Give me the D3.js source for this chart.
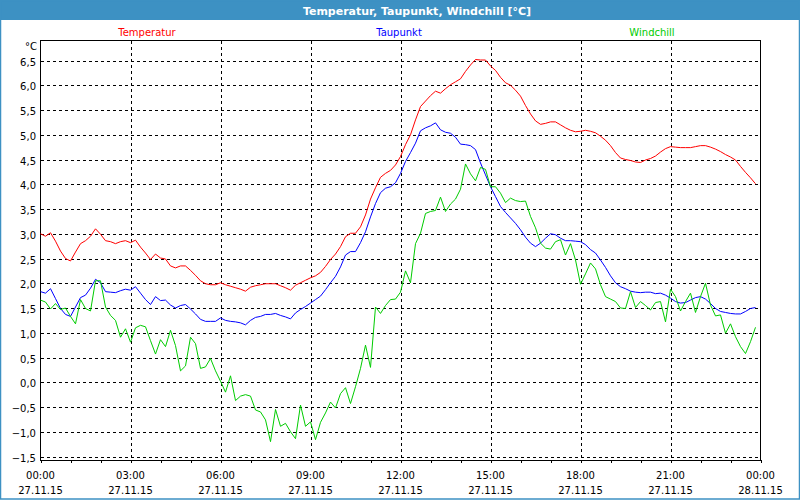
<!DOCTYPE html>
<html>
<head>
<meta charset="utf-8">
<script src="https://cdn.jsdelivr.net/npm/d3@7"></script>
<style>
  body { margin: 0; background: #fff; }
  svg { display: block; }
  text { font-family: "DejaVu Sans", sans-serif; font-size: 10px; fill: #000; }
</style>
</head>
<body>
<div id="chart"></div>
<script>
(function() {
    "use strict";

    // chart values, one reading every 10 minutes from 27.11.15 00:00
    const startTime = new Date(2015, 10, 27, 0, 0);
    const endTime = new Date(2015, 10, 28, 0, 0);
    const stepMinutes = 10;

    const seriesNames = ["Temperatur", "Taupunkt", "Windchill"];
    const seriesColors = ["#ff0000", "#0000ff", "#00cc00"];

    const temperatur = [
        3.0, 2.95, 3.02, 2.85, 2.65, 2.5,
        2.45, 2.63, 2.8, 2.86, 2.95, 3.1,
        2.99, 2.86, 2.84, 2.8, 2.84, 2.86,
        2.82, 2.87, 2.73, 2.61, 2.48, 2.59,
        2.51, 2.49, 2.35, 2.31, 2.35, 2.35,
        2.26, 2.16, 2.05, 1.99, 1.97, 1.97,
        2.01, 1.97, 1.94, 1.91, 1.88, 1.84,
        1.92, 1.95, 1.97, 1.99, 1.99, 1.99,
        1.95, 1.91, 1.86, 1.96, 2.01, 2.06,
        2.11, 2.15, 2.22, 2.34, 2.48, 2.59,
        2.74, 2.94, 3.01, 3.01, 3.14, 3.38,
        3.7, 3.93, 4.14, 4.22, 4.28, 4.39,
        4.56, 4.8, 5.0, 5.3, 5.57, 5.68,
        5.79, 5.88, 5.84, 5.93, 6.01, 6.07,
        6.13, 6.28, 6.41, 6.52, 6.51, 6.51,
        6.39, 6.3, 6.16, 6.05, 6.0, 5.9,
        5.78, 5.59, 5.42, 5.28, 5.21, 5.23,
        5.26, 5.26, 5.2, 5.14, 5.09, 5.06,
        5.07, 5.09, 5.07, 5.04, 4.97, 4.89,
        4.78, 4.64, 4.53, 4.5, 4.48, 4.45,
        4.44, 4.49, 4.52, 4.57, 4.65, 4.72,
        4.76, 4.75, 4.74, 4.74, 4.74, 4.76,
        4.78, 4.78, 4.75, 4.71, 4.66, 4.6,
        4.55, 4.49, 4.36, 4.24, 4.13, 4.01
    ];

    const taupunkt = [
        1.83, 1.8, 1.89, 1.69, 1.49, 1.37,
        1.33, 1.52, 1.71, 1.76, 1.9, 2.08,
        2.01, 1.83, 1.82, 1.81, 1.85, 1.88,
        1.86, 1.93, 1.8, 1.67, 1.57, 1.73,
        1.65, 1.66, 1.56, 1.5, 1.55, 1.57,
        1.48, 1.38, 1.27, 1.23, 1.23, 1.23,
        1.3, 1.25, 1.23, 1.22, 1.2, 1.16,
        1.25, 1.31, 1.33, 1.37, 1.37, 1.39,
        1.35, 1.32, 1.28, 1.4, 1.47, 1.53,
        1.6, 1.67, 1.74, 1.87, 2.01, 2.14,
        2.33, 2.57, 2.64, 2.64, 2.82, 3.04,
        3.34, 3.61, 3.83, 3.92, 3.95, 4.03,
        4.22, 4.46, 4.64, 4.83, 5.08, 5.14,
        5.18, 5.24, 5.1, 5.05, 5.03, 4.95,
        4.81, 4.8, 4.78, 4.7, 4.43, 4.19,
        3.95, 3.75, 3.55, 3.43, 3.32, 3.21,
        3.08, 2.93, 2.81, 2.74, 2.81, 2.91,
        3.0, 2.98, 2.91, 2.86, 2.86, 2.85,
        2.84, 2.78, 2.68, 2.61, 2.47, 2.32,
        2.15, 2.01, 1.93, 1.89, 1.84, 1.82,
        1.81, 1.82, 1.82, 1.79, 1.8, 1.76,
        1.7, 1.63, 1.6, 1.61, 1.66, 1.71,
        1.73, 1.68, 1.59, 1.49, 1.43, 1.41,
        1.39, 1.38, 1.38, 1.43, 1.49, 1.51
    ];

    const windchill = [
        1.66, 1.62, 1.48, 1.59, 1.47, 1.5,
        1.33, 1.18, 1.67, 1.49, 1.44, 2.05,
        2.05, 1.52, 1.35, 1.25, 0.91, 1.08,
        0.81, 1.1, 1.15, 1.12, 0.84, 0.57,
        0.86, 0.72, 1.05, 0.74, 0.23, 0.33,
        0.91, 0.78, 0.28, 0.31, 0.48, 0.23,
        0.02, -0.2, 0.13, -0.37, -0.28, -0.25,
        -0.28, -0.56, -0.6, -0.76, -1.2, -0.55,
        -0.89, -0.83, -1.0, -1.14, -0.46, -0.89,
        -0.8, -1.16, -0.81, -0.62, -0.4, -0.52,
        -0.23, -0.11, -0.43, -0.09, 0.28, 0.75,
        0.3, 1.52, 1.39, 1.55, 1.67, 1.68,
        1.82, 2.25, 2.01, 2.8, 3.01, 3.41,
        3.45, 3.47, 3.74, 3.45, 3.6, 3.7,
        3.9, 4.41, 4.21, 4.07, 4.34, 4.3,
        3.95, 3.95, 3.82, 3.63, 3.72, 3.67,
        3.65, 3.66, 3.35, 3.12, 2.81, 2.71,
        2.69, 2.84, 2.88, 2.57, 2.8, 2.47,
        1.98, 2.19, 2.41, 2.29, 1.97, 1.73,
        1.68, 1.63, 1.5, 1.49, 1.83, 1.51,
        1.63, 1.55, 1.46, 1.61, 1.63, 1.22,
        1.88, 1.73, 1.44, 1.63, 1.8, 1.41,
        1.73, 2.0, 1.56, 1.34, 1.36, 0.99,
        1.18, 0.92, 0.72, 0.58, 0.82, 1.11
    ];

    const yTicks = [-1.5, -1.0, -0.5, 0.0, 0.5, 1.0, 1.5, 2.0, 2.5, 3.0, 3.5, 4.0, 4.5, 5.0, 5.5, 6.0, 6.5];
    const yUnit = "°C";
    const title = "Temperatur, Taupunkt, Windchill [°C]";

    const width = 800;
    const height = 500;
    const barColor = "#3d91c3";

    const svg = d3.select("#chart").append("svg").attr("width", width).attr("height", height);

    const x = d3.scaleTime().domain([startTime, endTime]).range([40.5, 760.5]);
    const y = d3.scaleLinear().domain([-1.5, 6.5]).range([456.5, 60.5]);
    // snap to whole pixels so the 1px lines stay sharp
    const py = v => Math.round(y(v)) + 0.5;
    const px = t => Math.round(x(t)) + 0.5;

    drawFrame();
    drawGrid();
    drawAxes();
    drawSeries([temperatur, taupunkt, windchill]);
    drawLegend();

    function drawFrame() {
        svg.append("rect").attr("width", width).attr("height", height).attr("fill", "#fff");
        svg.append("rect").attr("x", 0).attr("y", 0).attr("width", width).attr("height", 20)
           .attr("fill", barColor);
        svg.append("rect").attr("x", 0.5).attr("y", 0.5).attr("width", width - 1).attr("height", height - 1.5)
           .attr("fill", "none").attr("stroke", barColor).attr("stroke-width", 1.5);
        svg.append("text").attr("x", 417).attr("y", 15).attr("text-anchor", "middle")
           .style("font-weight", "bold").style("font-size", "11px").style("fill", "#fff")
           .text(title);
    }

    function drawGrid() {
        const g = svg.append("g").attr("stroke", "#000").attr("stroke-dasharray", "3,3")
                     .attr("shape-rendering", "crispEdges");
        g.selectAll(".hgrid").data(yTicks).enter().append("line")
         .attr("x1", 41).attr("x2", 760)
         .attr("y1", d => py(d)).attr("y2", d => py(d));
        const vTicks = d3.timeHour.every(3).range(startTime, endTime).slice(1);
        g.selectAll(".vgrid").data(vTicks).enter().append("line")
         .attr("x1", d => px(d)).attr("x2", d => px(d))
         .attr("y1", 41).attr("y2", 460);
    }

    function drawAxes() {
        // frame round the plot
        svg.append("rect").attr("x", 40.5).attr("y", 40.5).attr("width", 720).attr("height", 420)
           .attr("fill", "none").attr("stroke", "#000").attr("shape-rendering", "crispEdges");

        // y labels
        const fmt = d3.format(".1f");
        svg.selectAll(".ylab").data(yTicks).enter().append("text")
           .attr("x", 36).attr("y", d => py(d) + 4).attr("text-anchor", "end")
           .text(d => fmt(d).replace(".", ","));
        svg.append("text").attr("x", 37).attr("y", 50).attr("text-anchor", "end").text(yUnit);

        // hourly ticks, labels every 3 hours
        const xAxis = d3.axisBottom(x).ticks(d3.timeHour.every(1)).tickSize(3).tickFormat("");
        const ax = svg.append("g").attr("transform", "translate(0,460)").call(xAxis);
        ax.select(".domain").remove();
        ax.selectAll("line").attr("shape-rendering", "crispEdges");

        const labelTimes = d3.timeHour.every(3).range(startTime, d3.timeMinute.offset(endTime, 1));
        const lab = svg.selectAll(".xlab").data(labelTimes).enter().append("text")
                       .attr("text-anchor", "middle");
        lab.append("tspan").attr("x", d => x(d)).attr("y", 479).text(d3.timeFormat("%H:%M"));
        lab.append("tspan").attr("x", d => x(d)).attr("y", 494).text(d3.timeFormat("%d.%m.%y"));
    }

    function drawSeries(list) {
        const line = d3.line()
                       .x((d, i) => x(d3.timeMinute.offset(startTime, i * stepMinutes)))
                       .y(d => y(d));
        svg.selectAll(".series").data(list).enter().append("path")
           .attr("fill", "none")
           .attr("stroke", (d, i) => seriesColors[i])
           .attr("stroke-width", 1)
           .attr("d", line);
    }

    function drawLegend() {
        const centers = [147, 399, 652];
        svg.selectAll(".legend").data(seriesNames).enter().append("text")
           .attr("x", (d, i) => centers[i]).attr("y", 36).attr("text-anchor", "middle")
           .style("fill", (d, i) => seriesColors[i])
           .text(d => d);
    }

})();
</script>
</body>
</html>
